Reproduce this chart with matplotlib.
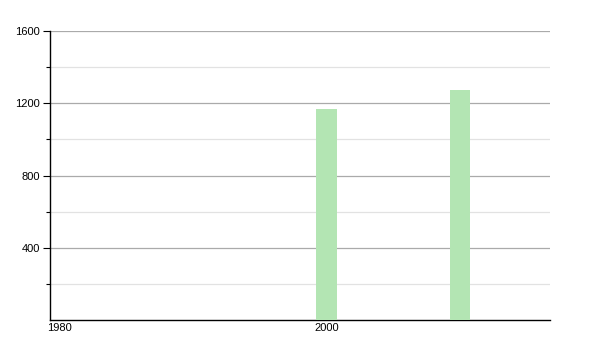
import matplotlib
matplotlib.use("Agg")
import matplotlib.pyplot as plt
from matplotlib.ticker import FixedLocator

years = [2000, 2010]
values = [1166, 1272]
x_ticks = [1980, 2000]
x_tick_labels = ["1980", "2000"]
y_ticks = [400, 800, 1200, 1600]
y_minor = [200, 600, 1000, 1400]

plt.rcParams['font.family'] = ['Liberation Sans', 'DejaVu Sans']

fig = plt.figure(figsize=(6, 3.5), dpi=100)
ax = fig.add_axes([50/600, 30/350, 500/600, 289/350])

ax.bar(years, values, width=1.56, color='#b3e5b3', zorder=3)

ax.set_xlim(1979.3, 2016.74)
ax.set_ylim(0, 1600)
ax.set_xticks(x_ticks)
ax.set_xticklabels(x_tick_labels)
ax.set_yticks(y_ticks)
ax.set_yticklabels([str(v) for v in y_ticks])
ax.yaxis.set_minor_locator(FixedLocator(y_minor))

ax.grid(axis='y', which='major', color='#aaaaaa', linewidth=0.9, zorder=0)
ax.grid(axis='y', which='minor', color='#e2e2e2', linewidth=0.9, zorder=0)
ax.set_axisbelow(True)

for s in ['top', 'right']:
    ax.spines[s].set_visible(False)
for s in ['left', 'bottom']:
    ax.spines[s].set_color('black')
    ax.spines[s].set_linewidth(1.0)

ax.tick_params(axis='y', which='major', length=5, width=0.8, labelsize=8, pad=2)
ax.tick_params(axis='y', which='minor', length=3, width=0.8)
ax.tick_params(axis='x', which='major', length=0, labelsize=8, pad=2)

fig.savefig('out.png', dpi=100)
